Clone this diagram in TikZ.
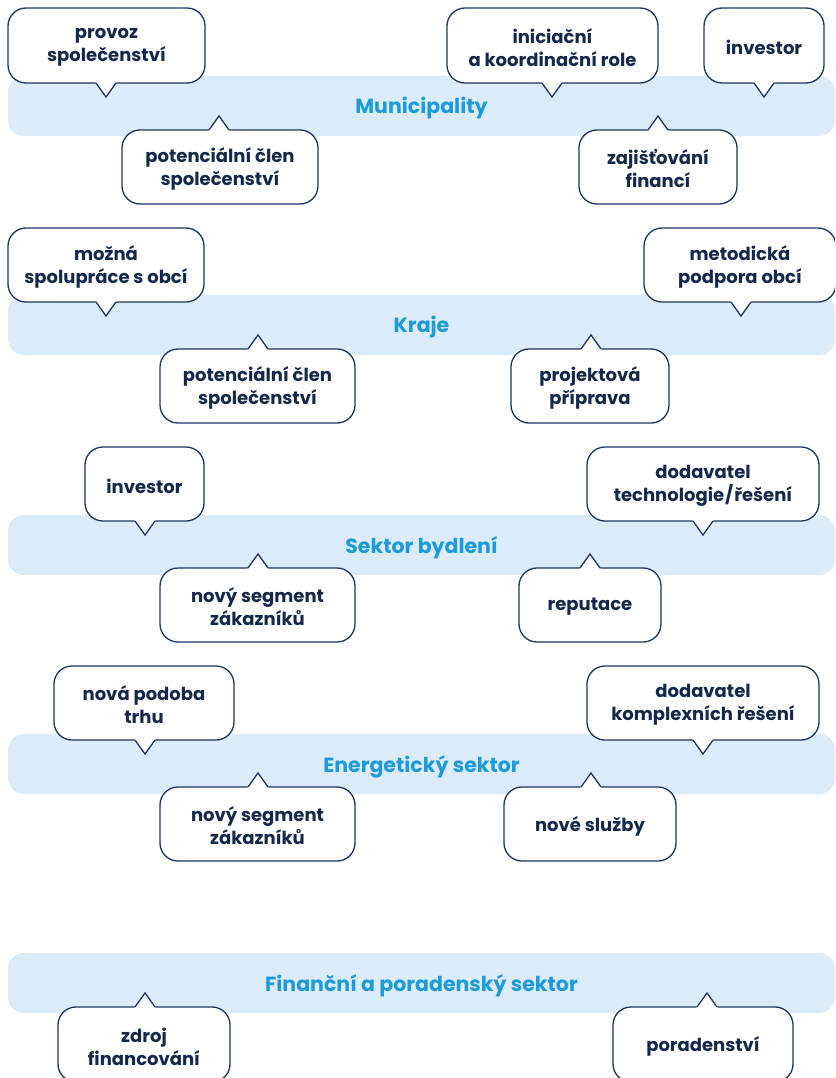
\documentclass[tikz,border=0pt]{standalone}
\usepackage{fontspec}
\setmainfont{Poppins}
\usetikzlibrary{calc}
\definecolor{bandfill}{HTML}{DBEBF7}
\definecolor{bandtext}{HTML}{1B9BDB}
\definecolor{navy}{HTML}{1C3560}
\definecolor{ink}{HTML}{13284B}
\tikzset{
  band/.style={fill=bandfill, rounded corners=16pt, draw=none, inner sep=0pt, outer sep=0pt},
  bandlabel/.style={text=bandtext, font=\fontsize{20.5}{24}\selectfont\bfseries, inner sep=0pt},
  callout/.style={draw=navy, line width=1.3pt, fill=white, rounded corners=18pt,
    inner sep=0pt, outer sep=0pt},
  calltext/.style={align=center, text=ink, font=\fontsize{18}{23}\selectfont\bfseries, inner sep=0pt},
  tailline/.style={draw=navy, line width=1.3pt, line join=miter},
}
% \cbox{name}{x1}{y1}{x2}{y2}{text}
\newcommand\cbox[6]{%
  \node[callout, minimum width={(#4-#2)*1pt}, minimum height={(#5-#3)*1pt}]
    (#1) at ({(#2+#4)/2},{(#3+#5)/2}) {};
  \node[calltext] (#1-t) at ($(#1.center)+(0,2)$) {#6};}
% \bandnode{name}{y}{text}
\newcommand\bandnode[3]{%
  \node[band, minimum width=827pt, minimum height=60pt] (#1) at (421.5,#2) {};
  \node[bandlabel] (#1-t) at ($(#1.center)+(0,2.5)$) {#3};}
% tail pointing down
\newcommand\tdown[2]{%
  \coordinate (#1-x) at (#2,0);
  \coordinate (#1-tip) at ($(#1-x |- #1.south)+(0,14)$);
  \fill[white] ($(#1-x |- #1.south)+(-11,-1.5)$) -- (#1-tip) -- ($(#1-x |- #1.south)+(11,-1.5)$) -- cycle;
  \draw[tailline] ($(#1-x |- #1.south)+(-10,0)$) -- (#1-tip) -- ($(#1-x |- #1.south)+(10,0)$);}
% tail pointing up
\newcommand\tup[2]{%
  \coordinate (#1-x) at (#2,0);
  \coordinate (#1-tip) at ($(#1-x |- #1.north)+(0,-14)$);
  \fill[white] ($(#1-x |- #1.north)+(-11,1.5)$) -- (#1-tip) -- ($(#1-x |- #1.north)+(11,1.5)$) -- cycle;
  \draw[tailline] ($(#1-x |- #1.north)+(-10,0)$) -- (#1-tip) -- ($(#1-x |- #1.north)+(10,0)$);}
\begin{document}
\begin{tikzpicture}[x=1pt,y=-1pt]
\useasboundingbox (0,0) rectangle (835,1078);
\begin{scope}
\clip (0,0) rectangle (835,1078);
% bands
\bandnode{mun}{106}{Municipality}
\bandnode{kraje}{325}{Kraje}
\bandnode{byd}{545}{Sektor bydlení}
\bandnode{ene}{764}{Energetický sektor}
\bandnode{fin}{983}{Finanční a poradenský sektor}

% Municipality
\cbox{m1}{8}{8}{205}{83}{provoz\\společenství} \tdown{m1}{106}
\cbox{m2}{447}{8}{658}{83}{iniciační\\a koordinační role} \tdown{m2}{552}
\cbox{m3}{704}{8}{824}{83}{investor} \tdown{m3}{764}
\cbox{m4}{122}{130}{318}{204}{potenciální člen\\společenství} \tup{m4}{219}
\cbox{m5}{579}{130}{737}{204}{zajišťování\\financí} \tup{m5}{658}

% Kraje
\cbox{k1}{8}{228}{204}{302}{možná\\spolupráce s obcí} \tdown{k1}{106}
\cbox{k2}{644}{228}{836}{302}{metodická\\podpora obcí} \tdown{k2}{741}
\cbox{k3}{160}{349}{355}{423}{potenciální člen\\společenství} \tup{k3}{258}
\cbox{k4}{511}{349}{669}{423}{projektová\\příprava} \tup{k4}{591}

% Sektor bydleni
\cbox{b1}{85}{447}{204}{521}{investor} \tdown{b1}{145}
\cbox{b2}{587}{447}{819}{521}{dodavatel\\technologie\kern1pt/\kern1pt řešení} \tdown{b2}{703}
\cbox{b3}{160}{568}{355}{642}{nový segment\\zákazníků} \tup{b3}{258}
\cbox{b4}{519}{568}{661}{642}{reputace} \tup{b4}{590}

% Energeticky sektor
\cbox{e1}{54}{666}{234}{740}{nová podoba\\trhu} \tdown{e1}{145}
\cbox{e2}{587}{666}{819}{740}{dodavatel\\komplexních řešení} \tdown{e2}{703}
\cbox{e3}{160}{787}{355}{861}{nový segment\\zákazníků} \tup{e3}{258}
\cbox{e4}{504}{787}{676}{861}{nové služby} \tup{e4}{591}

% Financni
\cbox{f1}{58}{1007}{230}{1082}{zdroj\\financování} \tup{f1}{145}
\cbox{f2}{613}{1007}{793}{1082}{poradenství} \tup{f2}{707}
\end{scope}
\end{tikzpicture}
\end{document}
